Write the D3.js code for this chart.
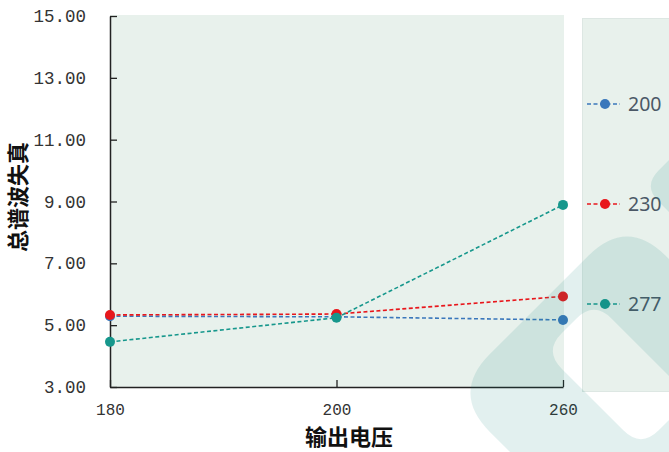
<!DOCTYPE html>
<html>
<head>
<meta charset="utf-8">
<script src="https://cdn.jsdelivr.net/npm/d3@7"></script>
<style>
  html, body { margin: 0; padding: 0; background: #ffffff; }
  svg { display: block; }
</style>
</head>
<body>
<svg id="chart" width="669" height="452"></svg>
<script>
// Output voltage categories on the x axis
const categories = ["180", "200", "260"];
// Total harmonic distortion for each input series
const seriesNames = ["200", "230", "277"];
const values200 = [5.29, 5.27, 5.17];
const values230 = [5.33, 5.36, 5.93];
const values277 = [4.46, 5.24, 8.89];
const yTicks = [3, 5, 7, 9, 11, 13, 15];
const seriesColors = ["#3a77bb", "#e8171c", "#16978c"];

const series = [
  { name: seriesNames[0], values: values200, color: seriesColors[0] },
  { name: seriesNames[1], values: values230, color: seriesColors[1] },
  { name: seriesNames[2], values: values277, color: seriesColors[2] }
];

const svg = d3.select("#chart");
const plot = { left: 110, right: 563, top: 16, bottom: 387 };

const x = d3.scalePoint().domain(categories).range([plot.left, plot.right]);
const y = d3.scaleLinear().domain([3, 15]).range([plot.bottom, plot.top]);

// Plot background
svg.append("rect")
  .attr("x", plot.left).attr("y", plot.top - 1)
  .attr("width", plot.right - plot.left + 1).attr("height", plot.bottom - plot.top + 1)
  .attr("fill", "#e8f1ec");

// Legend panel
svg.append("rect")
  .attr("x", 582.5).attr("y", 18.5)
  .attr("width", 100).attr("height", 373)
  .attr("fill", "#e8f1ec").attr("stroke", "#dde7e3").attr("stroke-width", 1);

// Axes
const yAxis = d3.axisLeft(y).tickValues(yTicks).tickFormat(d3.format(".2f"))
  .tickSizeInner(-7).tickSizeOuter(0).tickPadding(24);
const gy = svg.append("g").attr("transform", `translate(${plot.left},0)`).call(yAxis);
gy.select(".domain").attr("stroke", "#222").attr("stroke-width", 1.5);
gy.selectAll(".tick line").attr("stroke", "#222").attr("stroke-width", 1.3);
gy.selectAll(".tick text")
  .attr("font-family", "'Liberation Mono', monospace")
  .attr("font-size", 17.5).attr("fill", "#333");

const xAxis = d3.axisBottom(x).tickSizeInner(-7).tickSizeOuter(0).tickPadding(17);
const gx = svg.append("g").attr("transform", `translate(0,${plot.bottom})`).call(xAxis);
gx.select(".domain").attr("stroke", "#222").attr("stroke-width", 1.5);
gx.selectAll(".tick line").attr("stroke", "#222").attr("stroke-width", 1.3);
gx.selectAll(".tick text")
  .attr("font-family", "'Liberation Mono', monospace")
  .attr("font-size", 16).attr("fill", "#333");

// Axis titles
svg.append("text")
  .attr("x", 349).attr("y", 445)
  .attr("text-anchor", "middle")
  .attr("font-family", "'Noto Sans CJK SC', sans-serif")
  .attr("font-weight", "bold").attr("font-size", 22).attr("fill", "#111")
  .text("输出电压");

svg.append("text")
  .attr("transform", "translate(26,197) rotate(-90)")
  .attr("text-anchor", "middle")
  .attr("font-family", "'Noto Sans CJK SC', sans-serif")
  .attr("font-weight", "bold").attr("font-size", 22).attr("fill", "#111")
  .text("总谱波失真");

// Series lines and points
const line = d3.line()
  .x((d, i) => x(categories[i]))
  .y(d => y(d));

const gSeries = svg.append("g");
series.forEach(s => {
  gSeries.append("path")
    .datum(s.values)
    .attr("d", line)
    .attr("fill", "none")
    .attr("stroke", s.color)
    .attr("stroke-width", 1.6)
    .attr("stroke-dasharray", "4,2.5");
});
series.forEach(s => {
  gSeries.selectAll(null)
    .data(s.values)
    .enter().append("circle")
    .attr("cx", (d, i) => x(categories[i]))
    .attr("cy", d => y(d))
    .attr("r", 5)
    .attr("fill", s.color);
});

// Legend entries
const legendY = d3.scalePoint().domain(seriesNames).range([104, 304]);
const gLegend = svg.append("g");
series.forEach(s => {
  const cy = legendY(s.name);
  gLegend.append("line")
    .attr("x1", 587).attr("x2", 620).attr("y1", cy).attr("y2", cy)
    .attr("stroke", s.color).attr("stroke-width", 1.6)
    .attr("stroke-dasharray", "4,2.5");
  gLegend.append("circle")
    .attr("cx", 605).attr("cy", cy).attr("r", 5).attr("fill", s.color);
  gLegend.append("text")
    .attr("x", 628).attr("y", cy).attr("dy", "0.35em")
    .attr("font-family", "'Noto Sans', sans-serif")
    .attr("font-size", 19.5).attr("fill", "#4b5866")
    .text(s.name);
});

// Faint logo mark layered over the lower right corner
function roundedPoly(pts, r) {
  const n = pts.length;
  let d = "";
  for (let i = 0; i < n; i++) {
    const p0 = pts[(i - 1 + n) % n], p1 = pts[i], p2 = pts[(i + 1) % n];
    const l1 = Math.hypot(p1[0] - p0[0], p1[1] - p0[1]);
    const l2 = Math.hypot(p2[0] - p1[0], p2[1] - p1[1]);
    const a = [p1[0] + (p0[0] - p1[0]) * r / l1, p1[1] + (p0[1] - p1[1]) * r / l1];
    const b = [p1[0] + (p2[0] - p1[0]) * r / l2, p1[1] + (p2[1] - p1[1]) * r / l2];
    d += (i === 0 ? "M" : "L") + a[0] + "," + a[1] + "Q" + p1[0] + "," + p1[1] + " " + b[0] + "," + b[1];
  }
  return d + "Z";
}
const outerRing = roundedPoly([[451, 393], [627, 217], [850, 440], [674, 616]], 55);
const innerHole = roundedPoly([[544, 351], [594, 301], [691, 398], [641, 448]], 25);
const topPiece = roundedPoly([[643, 186], [723, 106], [803, 186], [723, 266]], 22);
const mark = svg.append("g").attr("fill", "#14827a").attr("fill-opacity", 0.12);
mark.append("path").attr("d", outerRing + innerHole).attr("fill-rule", "evenodd");
mark.append("path").attr("d", topPiece);
</script>
</body>
</html>
